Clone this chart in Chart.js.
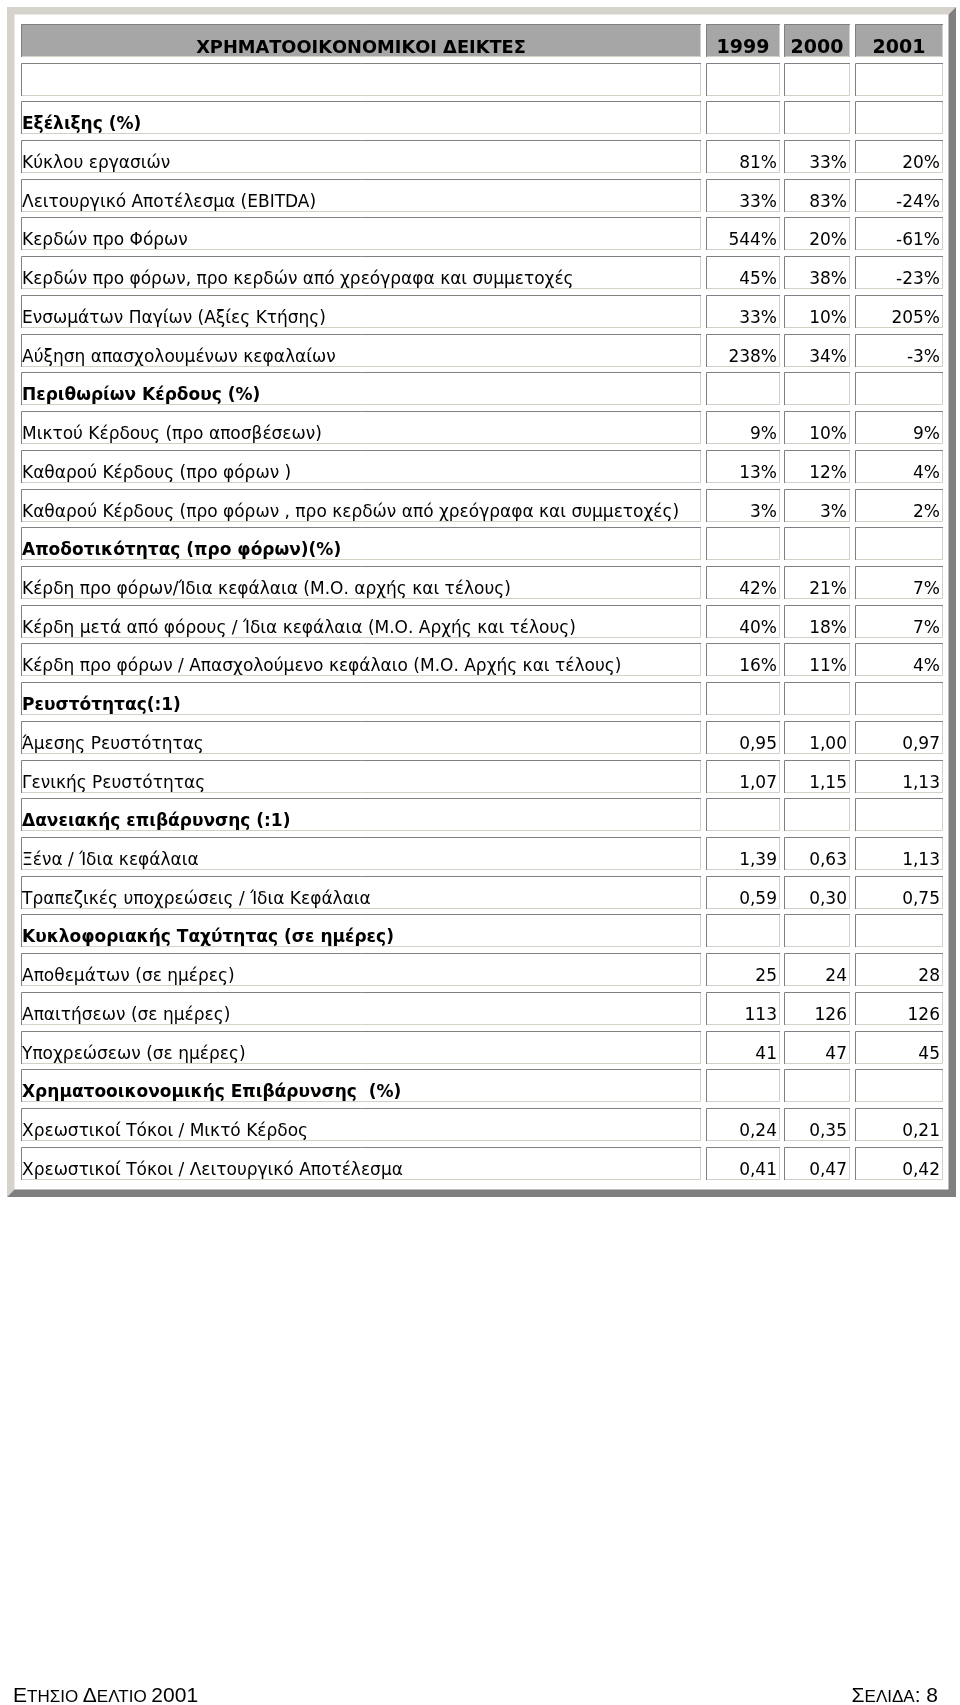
<!DOCTYPE html>
<html>
<head>
<meta charset="utf-8">
<script src="https://cdn.jsdelivr.net/npm/chart.js@4.4.1/dist/chart.umd.min.js"></script>
<style>
  html, body { margin: 0; padding: 0; background: #ffffff; }
  canvas { display: block; }
</style>
</head>
<body>
<canvas id="table" width="960" height="1705"></canvas>
<script>
// --- data -------------------------------------------------------------
const title = "ΧΡΗΜΑΤΟΟΙΚΟΝΟΜΙΚΟΙ ΔΕΙΚΤΕΣ";
const years = ["1999", "2000", "2001"];

const rowLabels = [
  "",
  "Εξέλιξης (%)",
  "Κύκλου εργασιών",
  "Λειτουργικό Αποτέλεσμα (EBITDA)",
  "Κερδών προ Φόρων",
  "Κερδών προ φόρων, προ κερδών από χρεόγραφα και συμμετοχές",
  "Ενσωμάτων Παγίων (Αξίες Κτήσης)",
  "Αύξηση απασχολουμένων κεφαλαίων",
  "Περιθωρίων Κέρδους (%)",
  "Μικτού Κέρδους (προ αποσβέσεων)",
  "Καθαρού Κέρδους (προ φόρων )",
  "Καθαρού Κέρδους (προ φόρων , προ κερδών από χρεόγραφα και συμμετοχές)",
  "Αποδοτικότητας (προ φόρων)(%)",
  "Κέρδη προ φόρων/Ίδια κεφάλαια (Μ.Ο. αρχής και τέλους)",
  "Κέρδη μετά από φόρους / Ίδια κεφάλαια (Μ.Ο. Αρχής και τέλους)",
  "Κέρδη προ φόρων / Απασχολούμενο κεφάλαιο (Μ.Ο. Αρχής και τέλους)",
  "Ρευστότητας(:1)",
  "Άμεσης Ρευστότητας",
  "Γενικής Ρευστότητας",
  "Δανειακής επιβάρυνσης (:1)",
  "Ξένα / Ίδια κεφάλαια",
  "Τραπεζικές υποχρεώσεις / Ίδια Κεφάλαια",
  "Κυκλοφοριακής Ταχύτητας (σε ημέρες)",
  "Αποθεμάτων (σε ημέρες)",
  "Απαιτήσεων (σε ημέρες)",
  "Υποχρεώσεων (σε ημέρες)",
  "Χρηματοοικονομικής Επιβάρυνσης  (%)",
  "Χρεωστικοί Τόκοι / Μικτό Κέρδος",
  "Χρεωστικοί Τόκοι / Λειτουργικό Αποτέλεσμα"
];

// section headings (bold rows)
const sectionRows = [1, 8, 12, 16, 19, 22, 26];

const values1999 = [null, null, "81%", "33%", "544%", "45%", "33%", "238%", null, "9%", "13%", "3%", null,
  "42%", "40%", "16%", null, "0,95", "1,07", null, "1,39", "0,59", null, "25", "113", "41", null, "0,24", "0,41"];
const values2000 = [null, null, "33%", "83%", "20%", "38%", "10%", "34%", null, "10%", "12%", "3%", null,
  "21%", "18%", "11%", null, "1,00", "1,15", null, "0,63", "0,30", null, "24", "126", "47", null, "0,35", "0,47"];
const values2001 = [null, null, "20%", "-24%", "-61%", "-23%", "205%", "-3%", null, "9%", "4%", "2%", null,
  "7%", "7%", "4%", null, "0,97", "1,13", null, "1,13", "0,75", null, "28", "126", "45", null, "0,21", "0,42"];

const footerLeft = [["Ε", "big"], ["ΤΗΣΙΟ ", "small"], ["Δ", "big"], ["ΕΛΤΙΟ ", "small"], ["2001", "big"]];
const footerRight = [["Σ", "big"], ["ΕΛΙΔΑ", "small"], [": 8", "big"]];

// --- layout / styles ----------------------------------------------------
const columnSpans = [[0, 680], [685, 759], [763, 829], [834, 922]]; // x-scale units
const cellHalfHeight = 16.5;
const cellFont = '"DejaVu Sans", Verdana, sans-serif';
const darkEdge = "#808080";
const lightEdge = "#d4d0c8";
const headerFill = "#a6a6a6";

const allRows = [title].concat(rowLabels);
const valueColumns = [values1999, values2000, values2001];

function bevel(ctx, x0, y0, x1, y1, w, light, dark) {
  ctx.fillStyle = light;
  ctx.beginPath();
  ctx.moveTo(x0, y0); ctx.lineTo(x1, y0); ctx.lineTo(x1 - w, y0 + w);
  ctx.lineTo(x0 + w, y0 + w); ctx.lineTo(x0 + w, y1 - w); ctx.lineTo(x0, y1);
  ctx.closePath(); ctx.fill();
  ctx.fillStyle = dark;
  ctx.beginPath();
  ctx.moveTo(x1, y0); ctx.lineTo(x1, y1); ctx.lineTo(x0, y1);
  ctx.lineTo(x0 + w, y1 - w); ctx.lineTo(x1 - w, y1 - w); ctx.lineTo(x1 - w, y0 + w);
  ctx.closePath(); ctx.fill();
}

function cellBox(ctx, x0, y0, x1, y1, fill) {
  ctx.fillStyle = fill;
  ctx.fillRect(x0, y0, x1 - x0, y1 - y0);
  ctx.lineWidth = 1;
  ctx.strokeStyle = darkEdge;
  ctx.beginPath();
  ctx.moveTo(x0 + 0.5, y1); ctx.lineTo(x0 + 0.5, y0 + 0.5); ctx.lineTo(x1, y0 + 0.5);
  ctx.stroke();
  ctx.strokeStyle = lightEdge;
  ctx.beginPath();
  ctx.moveTo(x1 - 0.5, y0 + 1); ctx.lineTo(x1 - 0.5, y1 - 0.5); ctx.lineTo(x0 + 1, y1 - 0.5);
  ctx.stroke();
}

function smallCaps(ctx, runs, x, y, align) {
  const fonts = { big: '21px "Liberation Sans", Arial, sans-serif', small: '17px "Liberation Sans", Arial, sans-serif' };
  let total = 0;
  runs.forEach(([t, k]) => { ctx.font = fonts[k]; total += ctx.measureText(t).width; });
  let cx = align === "right" ? x - total : x;
  ctx.textAlign = "left";
  runs.forEach(([t, k]) => {
    ctx.font = fonts[k];
    ctx.fillText(t, cx, y);
    cx += ctx.measureText(t).width;
  });
}

const tablePlugin = {
  id: "tablePlugin",
  afterDraw(chart) {
    const { ctx, scales: { x, y } } = chart;
    ctx.save();
    bevel(ctx, 7, 7, 956, 1197, 7.5, "#d6d3cd", "#7f7f7f");

    allRows.forEach((label, r) => {
      const cy = y.getPixelForValue(r);
      const top = Math.round(cy - cellHalfHeight);
      const bottom = Math.round(cy + cellHalfHeight);
      const isHeader = r === 0;
      const isSection = sectionRows.includes(r - 1);

      columnSpans.forEach(([a, b], c) => {
        const left = Math.round(x.getPixelForValue(a));
        const right = Math.round(x.getPixelForValue(b));
        cellBox(ctx, left, top, right, bottom, isHeader ? headerFill : "#ffffff");

        ctx.fillStyle = "#000000";
        ctx.textBaseline = "alphabetic";
        if (isHeader) {
          ctx.font = (c === 0 ? "bold 17.8px " : "bold 19px ") + cellFont;
          ctx.textAlign = "center";
          ctx.fillText(c === 0 ? title : years[c - 1], (left + right) / 2, bottom - 4);
        } else if (c === 0) {
          ctx.font = (isSection ? "bold " : "") + "17px " + cellFont;
          ctx.textAlign = "left";
          ctx.fillText(label, left + 1, bottom - 5.5);
        } else {
          const v = valueColumns[c - 1][r - 1];
          if (v !== null) {
            ctx.font = "17px " + cellFont;
            ctx.textAlign = "right";
            ctx.fillText(v, right - 3, bottom - 5.5);
          }
        }
      });
    });

    ctx.fillStyle = "#000000";
    ctx.textBaseline = "alphabetic";
    smallCaps(ctx, footerLeft, 13, 1702, "left");
    smallCaps(ctx, footerRight, 938, 1702, "right");
    ctx.restore();
  }
};

new Chart(document.getElementById("table"), {
  type: "bar",
  data: { labels: allRows, datasets: [] },
  options: {
    responsive: false,
    animation: false,
    indexAxis: "y",
    layout: { padding: { left: 21, right: 17, top: 21, bottom: 522.4 } },
    plugins: { legend: { display: false }, tooltip: { enabled: false } },
    scales: {
      x: { type: "linear", min: 0, max: 922, display: false },
      y: { type: "category", offset: true, display: false }
    }
  },
  plugins: [tablePlugin]
});
</script>
</body>
</html>
